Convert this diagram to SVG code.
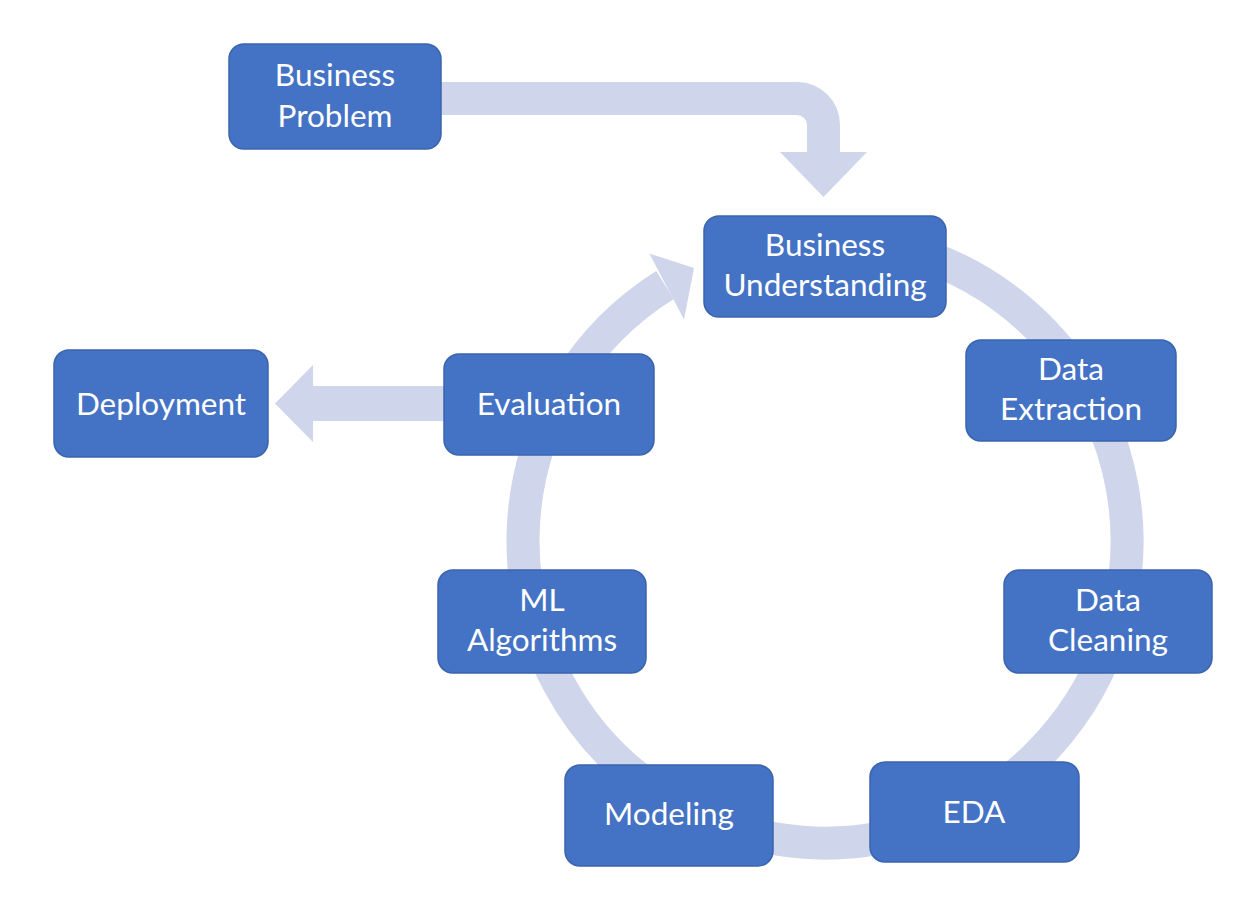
<svg xmlns="http://www.w3.org/2000/svg" width="1260" height="924" viewBox="0 0 1260 924">
<defs>
<style>
.box{fill:#4472C4;stroke:#3A64AE;stroke-width:1.5}
.lbl{font-family:Lato,"Open Sans","Liberation Sans",sans-serif;font-size:31.5px;fill:#FFFFFF;text-anchor:middle}
.band{fill:none;stroke:#CFD5EA;stroke-linecap:butt}
.head{fill:#CFD5EA;stroke:none}
</style>
</defs>
<rect width="1260" height="924" fill="#FFFFFF"/>
<g id="connectors">
  <!-- cycle ring: from behind Business Understanding (260deg) clockwise to 238deg -->
  <path class="band" stroke-width="33" d="M 772.6 243.6 A 302 302 0 1 1 665 284.9"/>
  <polygon class="head" points="649.4,253.6 684.0,319.6 694,268"/>
  <!-- Business Problem to Business Understanding -->
  <path class="band" stroke-width="33" d="M 435 98.5 H 797 A 26.5 26.5 0 0 1 823.5 125 V 153"/>
  <polygon class="head" points="780,152 867,152 823.5,197"/>
  <!-- Evaluation to Deployment -->
  <path class="band" stroke-width="35" d="M 446 403.5 H 312"/>
  <polygon class="head" points="313,365 313,442 275,403.5"/>
</g>
<g id="business-problem">
  <rect class="box" x="229" y="44" width="212" height="105" rx="15"/>
  <text class="lbl" x="335" y="86">Business</text>
  <text class="lbl" x="335" y="127">Problem</text>
</g>
<g id="business-understanding">
  <rect class="box" x="704" y="216" width="242" height="101" rx="15"/>
  <text class="lbl" x="825" y="256">Business</text>
  <text class="lbl" x="825" y="296">Understanding</text>
</g>
<g id="data-extraction">
  <rect class="box" x="966" y="340" width="210" height="101" rx="15"/>
  <text class="lbl" x="1071" y="380">Data</text>
  <text class="lbl" x="1071" y="420">Extraction</text>
</g>
<g id="data-cleaning">
  <rect class="box" x="1004" y="570" width="208" height="103" rx="15"/>
  <text class="lbl" x="1108" y="611">Data</text>
  <text class="lbl" x="1108" y="651">Cleaning</text>
</g>
<g id="eda">
  <rect class="box" x="870" y="762" width="209" height="100" rx="15"/>
  <text class="lbl" x="974" y="823">EDA</text>
</g>
<g id="modeling">
  <rect class="box" x="565" y="765" width="208" height="101" rx="15"/>
  <text class="lbl" x="669" y="825">Modeling</text>
</g>
<g id="ml-algorithms">
  <rect class="box" x="438" y="570" width="208" height="103" rx="15"/>
  <text class="lbl" x="542" y="611">ML</text>
  <text class="lbl" x="542" y="651">Algorithms</text>
</g>
<g id="evaluation">
  <rect class="box" x="444" y="354" width="210" height="101" rx="15"/>
  <text class="lbl" x="549" y="415">Evaluation</text>
</g>
<g id="deployment">
  <rect class="box" x="54" y="350" width="214" height="107" rx="15"/>
  <text class="lbl" x="161" y="415">Deployment</text>
</g>
</svg>
